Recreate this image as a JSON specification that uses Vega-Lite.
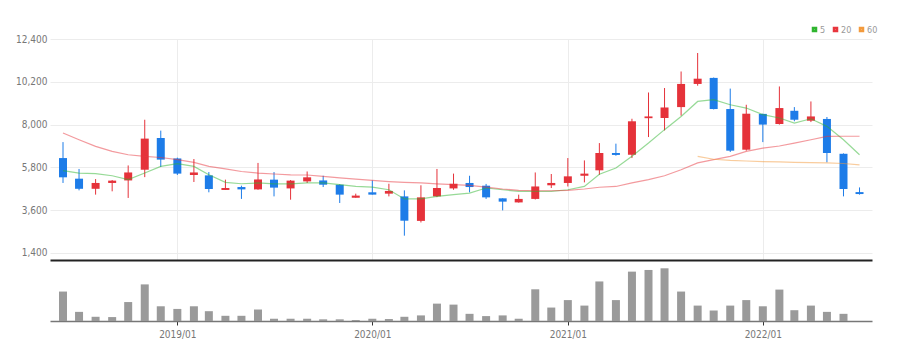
{
  "$schema": "https://vega.github.io/schema/vega-lite/v6.json",
  "padding": {"left": 0, "top": 25, "right": 10, "bottom": 5},
  "bounds": "flush",
  "spacing": 8,
  "config": {
    "view": {"stroke": null},
    "axis": {"labelFont": "'Liberation Sans Narrow', 'DejaVu Sans Condensed', 'Arial Narrow', sans-serif", "labelFontSize": 10, "labelColor": "#777777"},
    "legend": {"labelFont": "'Liberation Sans Narrow', 'DejaVu Sans Condensed', 'Arial Narrow', sans-serif"}
  },
  "datasets": {
    "k": [
      {"d": "2018-06-01", "o": 6280, "h": 7100, "l": 5000, "c": 5290, "v": 30, "ma5": 5630, "ma20": 7570, "ma60": null},
      {"d": "2018-07-01", "o": 5220, "h": 5720, "l": 4620, "c": 4700, "v": 9.3, "ma5": 5510, "ma20": 7220, "ma60": null},
      {"d": "2018-08-01", "o": 4700, "h": 5200, "l": 4400, "c": 5000, "v": 4.3, "ma5": 5480, "ma20": 6880, "ma60": null},
      {"d": "2018-09-01", "o": 5000, "h": 5150, "l": 4570, "c": 5120, "v": 4, "ma5": 5370, "ma20": 6620, "ma60": null},
      {"d": "2018-10-01", "o": 5130, "h": 5900, "l": 4230, "c": 5540, "v": 19.3, "ma5": 5170, "ma20": 6450, "ma60": null},
      {"d": "2018-11-01", "o": 5680, "h": 8250, "l": 5300, "c": 7280, "v": 37.3, "ma5": 5510, "ma20": 6370, "ma60": null},
      {"d": "2018-12-01", "o": 7310, "h": 7690, "l": 5820, "c": 6200, "v": 15, "ma5": 5850, "ma20": 6310, "ma60": null},
      {"d": "2019-01-01", "o": 6260, "h": 6300, "l": 5410, "c": 5480, "v": 12.3, "ma5": 5990, "ma20": 6200, "ma60": null},
      {"d": "2019-02-01", "o": 5410, "h": 6230, "l": 5050, "c": 5540, "v": 15, "ma5": 5850, "ma20": 6060, "ma60": null},
      {"d": "2019-03-01", "o": 5390, "h": 5560, "l": 4520, "c": 4690, "v": 10, "ma5": 5420, "ma20": 5850, "ma60": null},
      {"d": "2019-04-01", "o": 4640, "h": 5170, "l": 4640, "c": 4740, "v": 5.3, "ma5": 5030, "ma20": 5720, "ma60": null},
      {"d": "2019-05-01", "o": 4790, "h": 4860, "l": 4180, "c": 4670, "v": 5.3, "ma5": 4960, "ma20": 5590, "ma60": null},
      {"d": "2019-06-01", "o": 4670, "h": 6030, "l": 4650, "c": 5180, "v": 11.7, "ma5": 5000, "ma20": 5510, "ma60": null},
      {"d": "2019-07-01", "o": 5170, "h": 5560, "l": 4310, "c": 4760, "v": 2.3, "ma5": 4950, "ma20": 5460, "ma60": null},
      {"d": "2019-08-01", "o": 4720, "h": 5150, "l": 4140, "c": 5120, "v": 2.3, "ma5": 4950, "ma20": 5420, "ma60": null},
      {"d": "2019-09-01", "o": 5080, "h": 5590, "l": 5000, "c": 5290, "v": 2.3, "ma5": 5000, "ma20": 5410, "ma60": null},
      {"d": "2019-10-01", "o": 5130, "h": 5370, "l": 4790, "c": 4910, "v": 1.7, "ma5": 5000, "ma20": 5340, "ma60": null},
      {"d": "2019-11-01", "o": 4910, "h": 4930, "l": 3970, "c": 4400, "v": 1.7, "ma5": 4910, "ma20": 5260, "ma60": null},
      {"d": "2019-12-01", "o": 4240, "h": 4450, "l": 4240, "c": 4350, "v": 1, "ma5": 4820, "ma20": 5200, "ma60": null},
      {"d": "2020-01-01", "o": 4520, "h": 5130, "l": 4400, "c": 4400, "v": 2.3, "ma5": 4790, "ma20": 5130, "ma60": null},
      {"d": "2020-02-01", "o": 4450, "h": 4960, "l": 4310, "c": 4590, "v": 2, "ma5": 4650, "ma20": 5070, "ma60": null},
      {"d": "2020-03-01", "o": 4310, "h": 4620, "l": 2290, "c": 3060, "v": 4.3, "ma5": 4180, "ma20": 5030, "ma60": null},
      {"d": "2020-04-01", "o": 3050, "h": 4880, "l": 2970, "c": 4260, "v": 5.7, "ma5": 4180, "ma20": 5000, "ma60": null},
      {"d": "2020-05-01", "o": 4310, "h": 5720, "l": 4270, "c": 4740, "v": 17.7, "ma5": 4310, "ma20": 4950, "ma60": null},
      {"d": "2020-06-01", "o": 4720, "h": 5480, "l": 4650, "c": 4960, "v": 16.7, "ma5": 4400, "ma20": 4910, "ma60": null},
      {"d": "2020-07-01", "o": 5000, "h": 5370, "l": 4520, "c": 4790, "v": 7.3, "ma5": 4480, "ma20": 4880, "ma60": null},
      {"d": "2020-08-01", "o": 4860, "h": 4950, "l": 4180, "c": 4260, "v": 5, "ma5": 4740, "ma20": 4790, "ma60": null},
      {"d": "2020-09-01", "o": 4210, "h": 4210, "l": 3590, "c": 4040, "v": 5.7, "ma5": 4650, "ma20": 4690, "ma60": null},
      {"d": "2020-10-01", "o": 4000, "h": 4400, "l": 3990, "c": 4180, "v": 2.3, "ma5": 4570, "ma20": 4620, "ma60": null},
      {"d": "2020-11-01", "o": 4180, "h": 5540, "l": 4150, "c": 4820, "v": 32.3, "ma5": 4570, "ma20": 4600, "ma60": null},
      {"d": "2020-12-01", "o": 4880, "h": 5460, "l": 4740, "c": 5000, "v": 13.7, "ma5": 4570, "ma20": 4600, "ma60": null},
      {"d": "2021-01-01", "o": 5000, "h": 6280, "l": 4820, "c": 5340, "v": 21.3, "ma5": 4650, "ma20": 4620, "ma60": null},
      {"d": "2021-02-01", "o": 5370, "h": 6160, "l": 5030, "c": 5480, "v": 15.7, "ma5": 4820, "ma20": 4690, "ma60": null},
      {"d": "2021-03-01", "o": 5650, "h": 7050, "l": 5420, "c": 6540, "v": 40.3, "ma5": 5450, "ma20": 4780, "ma60": null},
      {"d": "2021-04-01", "o": 6540, "h": 7020, "l": 6400, "c": 6440, "v": 21.3, "ma5": 5770, "ma20": 4820, "ma60": null},
      {"d": "2021-05-01", "o": 6450, "h": 8300, "l": 6280, "c": 8170, "v": 50.3, "ma5": 6370, "ma20": 5000, "ma60": null},
      {"d": "2021-06-01", "o": 8330, "h": 9650, "l": 7360, "c": 8420, "v": 52, "ma5": 7050, "ma20": 5170, "ma60": null},
      {"d": "2021-07-01", "o": 8340, "h": 9880, "l": 7700, "c": 8880, "v": 53.7, "ma5": 7740, "ma20": 5370, "ma60": null},
      {"d": "2021-08-01", "o": 8900, "h": 10730, "l": 8460, "c": 10090, "v": 30, "ma5": 8420, "ma20": 5680, "ma60": null},
      {"d": "2021-09-01", "o": 10090, "h": 11680, "l": 10000, "c": 10360, "v": 15.7, "ma5": 9190, "ma20": 6030, "ma60": 6370},
      {"d": "2021-10-01", "o": 10400, "h": 10420, "l": 8780, "c": 8800, "v": 10.7, "ma5": 9280, "ma20": 6200, "ma60": 6220},
      {"d": "2021-11-01", "o": 8800, "h": 9850, "l": 6590, "c": 6660, "v": 15.7, "ma5": 9020, "ma20": 6370, "ma60": 6160},
      {"d": "2021-12-01", "o": 6710, "h": 9020, "l": 6660, "c": 8560, "v": 21.3, "ma5": 8850, "ma20": 6620, "ma60": 6130},
      {"d": "2022-01-01", "o": 8550, "h": 8560, "l": 7100, "c": 8000, "v": 15, "ma5": 8510, "ma20": 6790, "ma60": 6100},
      {"d": "2022-02-01", "o": 8030, "h": 9960, "l": 8000, "c": 8850, "v": 32, "ma5": 8340, "ma20": 6900, "ma60": 6080},
      {"d": "2022-03-01", "o": 8710, "h": 8900, "l": 8170, "c": 8250, "v": 11, "ma5": 8080, "ma20": 7050, "ma60": 6060},
      {"d": "2022-04-01", "o": 8200, "h": 9190, "l": 8130, "c": 8420, "v": 15.7, "ma5": 8300, "ma20": 7220, "ma60": 6050},
      {"d": "2022-05-01", "o": 8290, "h": 8390, "l": 6060, "c": 6540, "v": 9.3, "ma5": 7910, "ma20": 7390, "ma60": 6030},
      {"d": "2022-06-01", "o": 6500, "h": 6520, "l": 4310, "c": 4690, "v": 7.3, "ma5": 7220, "ma20": 7400, "ma60": 6000},
      {"d": "2022-07-01", "o": 4530, "h": 4770, "l": 4400, "c": 4430, "v": 0, "ma5": 6450, "ma20": 7400, "ma60": 5930}
    ]
  },
  "vconcat": [
    {
      "width": 822,
      "height": 221,
      "data": {"name": "k"},
      "layer": [
        {
          "mark": {"type": "rule", "strokeWidth": 1},
          "encoding": {
            "x": {
              "field": "d", "type": "temporal",
              "scale": {"type": "utc", "domain": [{"year": 2018, "month": 5, "date": 17, "utc": true}, {"year": 2022, "month": 7, "date": 15, "utc": true}]},
              "axis": {"title": null, "labels": false, "ticks": false, "domainColor": "#222222", "domainWidth": 2, "grid": true, "gridColor": "#ececec",
                "values": [{"year": 2019, "month": 1, "date": 1, "utc": true}, {"year": 2020, "month": 1, "date": 1, "utc": true}, {"year": 2021, "month": 1, "date": 1, "utc": true}, {"year": 2022, "month": 1, "date": 1, "utc": true}]}
            },
            "y": {
              "field": "l", "type": "quantitative",
              "scale": {"domain": [1040, 12400], "nice": false, "zero": false},
              "axis": {"title": null, "values": [1400, 3600, 5800, 8000, 10200, 12400], "format": ",d", "domain": false, "ticks": false, "grid": true, "gridColor": "#ececec", "labelPadding": 3, "minExtent": 50, "maxExtent": 50}
            },
            "y2": {"field": "h"},
            "color": {"condition": {"test": "datum.c >= datum.o", "value": "#e5323a"}, "value": "#1d7ce8"}
          }
        },
        {
          "mark": {"type": "bar", "width": 8},
          "encoding": {
            "x": {"field": "d", "type": "temporal"},
            "y": {"field": "o", "type": "quantitative"},
            "y2": {"field": "c"},
            "color": {"condition": {"test": "datum.c >= datum.o", "value": "#e5323a"}, "value": "#1d7ce8"}
          }
        },
        {
          "transform": [{"fold": ["ma5", "ma20", "ma60"], "as": ["ma", "val"]}],
          "mark": {"type": "line", "strokeWidth": 1.2, "strokeOpacity": 0.5},
          "encoding": {
            "x": {"field": "d", "type": "temporal"},
            "y": {"field": "val", "type": "quantitative"},
            "color": {
              "field": "ma", "type": "nominal",
              "scale": {"domain": ["ma5", "ma20", "ma60"], "range": ["#2fb52f", "#e8363d", "#f39a3c"]},
              "legend": {"title": null, "orient": "none", "legendX": 760, "legendY": -14, "direction": "horizontal",
                "symbolType": "square", "symbolSize": 9, "symbolStrokeWidth": 2.5, "symbolOpacity": 1,
                "labelExpr": "replace(datum.label, 'ma', '')", "labelFontSize": 9, "labelColor": "#999999",
                "gridAlign": "none", "columnPadding": 3, "labelOffset": 1}
            }
          }
        }
      ]
    },
    {
      "width": 822,
      "height": 53,
      "data": {"name": "k"},
      "mark": {"type": "bar", "width": 8, "color": "#9a9a9a"},
      "encoding": {
        "x": {
          "field": "d", "type": "temporal",
          "scale": {"type": "utc", "domain": [{"year": 2018, "month": 5, "date": 17, "utc": true}, {"year": 2022, "month": 7, "date": 15, "utc": true}]},
          "axis": {"title": null, "format": "%Y/%m", "grid": false, "domainColor": "#777777", "domainWidth": 1.5, "tickColor": "#333333", "tickSize": 4, "labelPadding": 4,
            "values": [{"year": 2019, "month": 1, "date": 1, "utc": true}, {"year": 2020, "month": 1, "date": 1, "utc": true}, {"year": 2021, "month": 1, "date": 1, "utc": true}, {"year": 2022, "month": 1, "date": 1, "utc": true}]}
        },
        "y": {"field": "v", "type": "quantitative", "scale": {"domain": [0, 54], "nice": false}, "axis": null}
      }
    }
  ]
}
